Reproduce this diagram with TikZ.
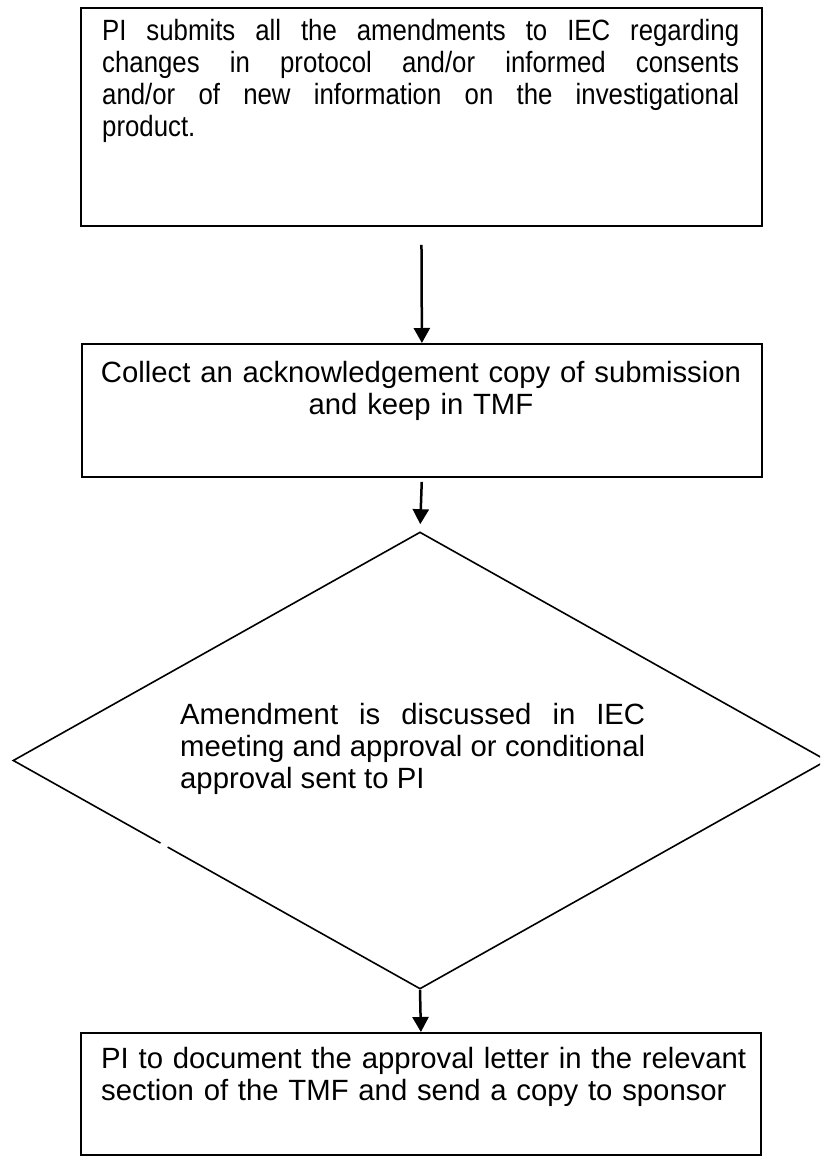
\documentclass[tikz,border=0pt]{standalone}
\usepackage{fontspec}
\setmainfont{Liberation Sans}
\newfontfamily\narrowfont[FakeStretch=0.88]{Liberation Sans}
\usetikzlibrary{arrows.meta,shapes.geometric,calc}
\begin{document}
\begin{tikzpicture}[x=1pt,y=1pt,
  box/.style={draw, line width=1.8pt, inner sep=0pt, anchor=north west},
  txt/.style={inner sep=0pt, font=\fontsize{29.3}{32}\selectfont},
  flow/.style={line width=2.5pt, -{Triangle[length=15pt,width=16pt]}}]
\useasboundingbox (0,0) rectangle (820,-1160);
\clip (0,0) rectangle (820,-1160);
\fill[white] (0,0) rectangle (820,-1160);

% process boxes
\node[box, minimum width=681pt, minimum height=218pt] (b1) at (80,-7) {};
\node[box, minimum width=680pt, minimum height=133pt] (b2) at (81,-343) {};
\node[box, minimum width=680pt, minimum height=122pt] (b3) at (80,-1032) {};

% decision
\node[draw, diamond, line width=1.6pt, minimum width=814pt, minimum height=457pt,
      inner sep=0pt] (d) at (420,-760.5) {};
% small break in the lower left edge
\draw[white, line width=4pt] ($(d.west)!0.363!(d.south)$) -- ($(d.west)!0.380!(d.south)$);

% texts
\node[txt, anchor=north west, text width=637pt, align=justify,
      font=\narrowfont\fontsize{29.3}{32}\selectfont] (t1) at (102,-19)
  {PI submits all the amendments to IEC regarding\linebreak
   changes in protocol and/or informed consents\linebreak
   and/or of new information on the investigational\linebreak
   product.};
\node[txt, anchor=north, text width=660pt, align=center] (t2) at (421,-361)
  {Collect an acknowledgement copy of submission\\and keep in TMF};
\node[txt, anchor=north west, text width=465pt, align=justify] (t3) at (180,-703)
  {Amendment is discussed in IEC\linebreak
   meeting and approval or conditional\linebreak
   approval sent to PI};
\node[txt, anchor=north west, text width=650pt, align=left] (t4) at (101,-1047)
  {PI to document the approval letter in the relevant\\
   section of the TMF and send a copy to sponsor};

% connectors
\draw[flow, shorten <=18pt] (b1.south) -- (b2.north);
\draw[flow, shorten <=4pt, shorten >=7pt] (b2.south) -- (d.north);
\draw[flow] (d.south) -- (b3.north);
\end{tikzpicture}
\end{document}
